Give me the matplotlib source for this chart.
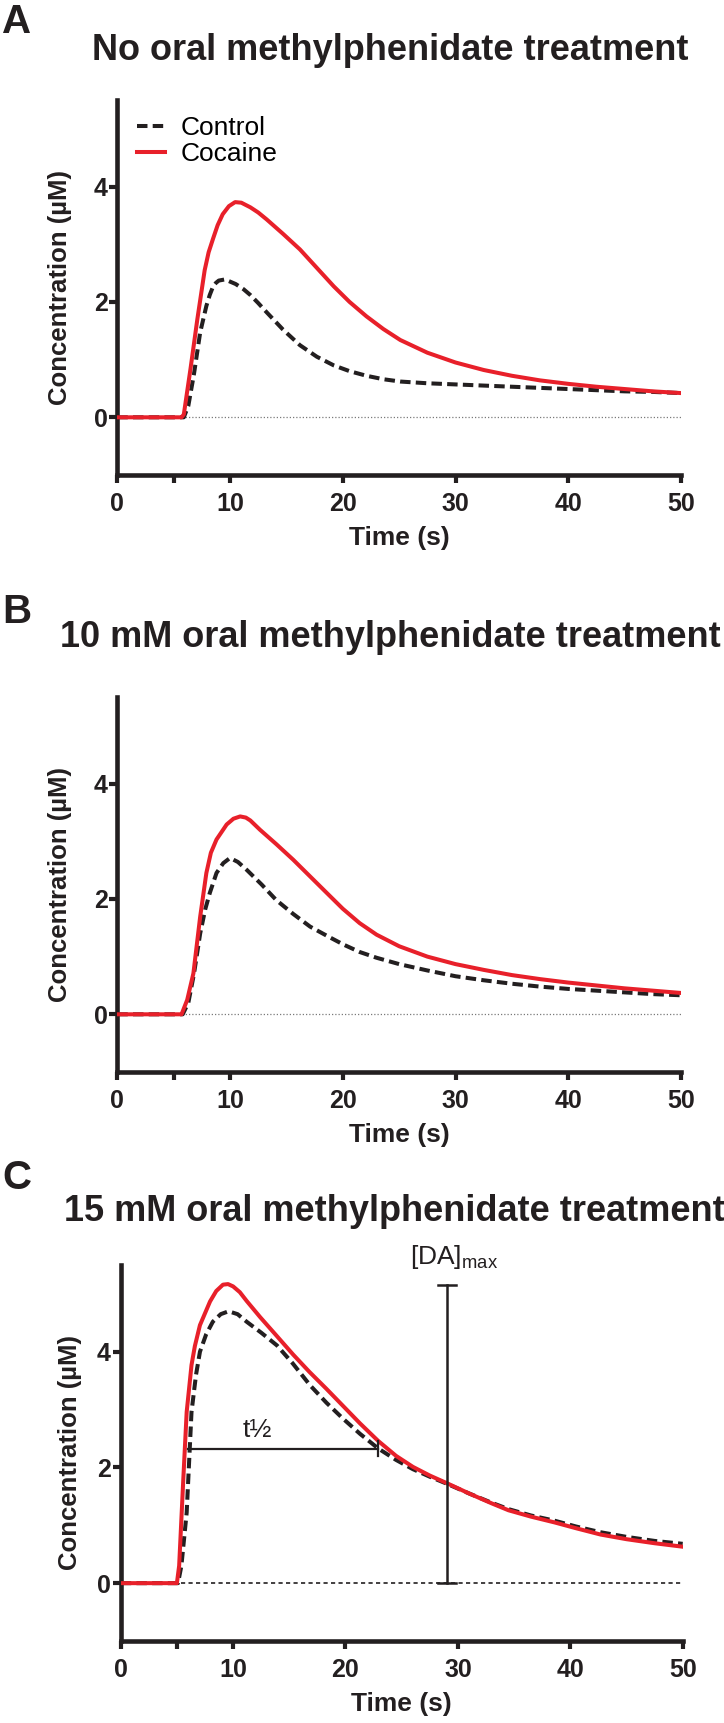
import matplotlib
matplotlib.use("Agg")
import matplotlib.pyplot as plt
from matplotlib.ticker import FixedLocator

plt.rcParams['font.family'] = ['Liberation Sans', 'DejaVu Sans']
plt.rcParams['mathtext.fontset'] = 'custom'
plt.rcParams['mathtext.rm'] = 'Liberation Sans'

# ---------------- data ----------------
titles = ["No oral methylphenidate treatment",
          "10 mM oral methylphenidate treatment",
          "15 mM oral methylphenidate treatment"]
panel_letters = ["A", "B", "C"]
series_names = ["Control", "Cocaine"]

# Panel A
a_ctrl_t = [0, 3, 5.9, 6.3, 6.8, 7.35, 7.9, 8.2, 8.5, 8.75, 9.0, 9.55, 10.5, 11.2, 11.8, 12.5,
            13.25, 14.7, 16.2, 17.7, 19.2, 20.6, 22.1, 23.6, 25.1, 27.5, 30, 32.5, 35, 37.5,
            40, 42.5, 45, 47.5, 50]
a_ctrl_v = [0, 0, 0, 0.2, 0.75, 1.47, 1.93, 2.12, 2.27, 2.33, 2.37, 2.39, 2.31, 2.22, 2.12, 1.98,
            1.82, 1.52, 1.25, 1.05, 0.90, 0.80, 0.72, 0.66, 0.62, 0.59, 0.57, 0.55, 0.53, 0.51,
            0.49, 0.47, 0.45, 0.44, 0.42]
a_coc_t = [0, 3, 5.7, 5.9, 6.5, 7.1, 7.75, 8.1, 8.5, 8.9, 9.35, 9.9, 10.45, 11.0, 11.8, 12.5,
           13.25, 14.7, 16.2, 17.7, 19.2, 20.6, 22.1, 23.6, 25.1, 27.5, 30, 32.5, 35, 37.5,
           40, 42.5, 45, 47.5, 50]
a_coc_v = [0, 0, 0, 0.05, 0.85, 1.7, 2.55, 2.86, 3.1, 3.33, 3.52, 3.66, 3.73, 3.72, 3.64, 3.55,
           3.43, 3.18, 2.91, 2.59, 2.27, 2.0, 1.75, 1.53, 1.34, 1.12, 0.95, 0.82, 0.72, 0.64,
           0.58, 0.53, 0.49, 0.45, 0.42]

# Panel B
b_ctrl_t = [0, 3, 5.8, 6.3, 6.8, 7.35, 7.8, 8.2, 8.8, 9.4, 10.0, 10.7, 11.5, 12.8, 14.1, 15.6,
            17.1, 18.6, 20.05, 21.5, 23, 25, 27.5, 30, 32.5, 35, 37.5, 40, 42.5, 45, 47.5, 50]
b_ctrl_v = [0, 0, 0, 0.2, 0.7, 1.4, 1.82, 2.1, 2.45, 2.62, 2.71, 2.64, 2.5, 2.25, 1.98, 1.74,
            1.52, 1.36, 1.21, 1.08, 0.98, 0.87, 0.76, 0.66, 0.59, 0.53, 0.48, 0.44, 0.41, 0.38,
            0.35, 0.33]
b_coc_t = [0, 3, 5.7, 6.2, 6.75, 7.35, 7.9, 8.3, 8.8, 9.7, 10.3, 10.9, 11.4, 11.8, 12.65, 14.1,
           15.6, 17.1, 18.6, 20.0, 21.5, 23, 25, 27.5, 30, 32.5, 35, 37.5, 40, 42.5, 45, 47.5, 50]
b_coc_v = [0, 0, 0, 0.25, 0.71, 1.69, 2.45, 2.8, 3.03, 3.29, 3.39, 3.43, 3.41, 3.36, 3.2, 2.95,
           2.68, 2.39, 2.1, 1.83, 1.58, 1.38, 1.18, 1.0, 0.87, 0.77, 0.68, 0.61, 0.55, 0.5, 0.45,
           0.41, 0.37]

# Panel C
c_ctrl_t = [0, 3, 5.1, 5.4, 5.87, 6.3, 6.7, 7.05, 7.6, 8.2, 8.9, 9.6, 10.4, 11.2, 12.5, 13.9,
            15.3, 16.85, 18.3, 19.8, 21.3, 22.9, 24.5, 26, 27.5, 29, 31, 33, 34.5, 36.5, 38.6,
            40.5, 42.7, 45, 47.5, 50]
c_ctrl_v = [0, 0, 0, 0.3, 1.22, 2.96, 3.6, 4.0, 4.3, 4.52, 4.65, 4.70, 4.65, 4.52, 4.33, 4.11,
            3.8, 3.42, 3.12, 2.84, 2.58, 2.33, 2.13, 1.97, 1.84, 1.72, 1.55, 1.39, 1.28, 1.17, 1.08,
            0.98, 0.88, 0.80, 0.73, 0.68]
c_coc_t = [0, 3, 5.0, 5.2, 5.57, 5.87, 6.3, 6.6, 7.05, 7.95, 8.5, 9.1, 9.55, 10.0, 10.6, 11.2,
           12.4, 13.9, 15.35, 16.8, 18.3, 19.8, 21.3, 22.9, 24.5, 26, 27.5, 29, 31, 33, 34.5,
           36.5, 38.6, 40.5, 42.7, 45, 47.5, 50]
c_coc_v = [0, 0, 0, 0.3, 1.8, 2.96, 3.77, 4.1, 4.46, 4.87, 5.05, 5.16, 5.17, 5.13, 5.03, 4.88,
           4.6, 4.27, 3.95, 3.65, 3.36, 3.06, 2.76, 2.46, 2.2, 2.01, 1.86, 1.73, 1.55, 1.38, 1.26,
           1.15, 1.05, 0.95, 0.84, 0.76, 0.69, 0.63]

panels = [
    (a_ctrl_t, a_ctrl_v, a_coc_t, a_coc_v),
    (b_ctrl_t, b_ctrl_v, b_coc_t, b_coc_v),
    (c_ctrl_t, c_ctrl_v, c_coc_t, c_coc_v),
]

x_ticks = [0, 10, 20, 30, 40, 50]
x_minor = [5]
y_ticks = [0, 2, 4]

# annotations (panel C)
thalf_level = 2.32
thalf_start, thalf_end = 6.0, 22.9
damax_time = 29.0
damax_top = 5.15

# ---------------- layout ----------------
W, H = 724, 1723
fig = plt.figure(figsize=(W / 100, H / 100), dpi=100)

def rect(l, r, t, b):
    return [l / W, 1 - b / H, (r - l) / W, (b - t) / H]

ax_rects = [rect(117.3, 681, 100, 475),
            rect(117.3, 681, 697, 1072),
            rect(120.7, 682.7, 1265, 1641)]
title_pos = [(390, 60), (390, 647), (394.5, 1221)]
letter_pos = [(2, 33), (2, 623), (2, 1189)]
ylabel_x = [-0.080, -0.080, -0.069]

INK = '#231f20'
RED = '#e8202a'
LW = 2.9

for i, (ct, cv, kt, kv) in enumerate(panels):
    ax = fig.add_axes(ax_rects[i])
    # baseline
    if i < 2:
        ax.plot([0, 50], [0, 0], color='#7a7a7a', lw=0.9, ls=(0, (1, 1.6)), zorder=1)
    else:
        ax.plot([0, 50], [0, 0], color=INK, lw=1.2, ls=(0, (2.5, 2)), zorder=1)
    ax.plot(ct, cv, color=INK, lw=LW, ls=(0, (2.6, 1.3)), label=series_names[0], zorder=3)
    ax.plot(kt, kv, color=RED, lw=LW, label=series_names[1], zorder=4)

    ax.set_xlim(0, 50)
    ax.set_ylim(-1, 5.5)
    for s in ['top', 'right']:
        ax.spines[s].set_visible(False)
    for s in ['left', 'bottom']:
        ax.spines[s].set_linewidth(3.3)
        ax.spines[s].set_color(INK)
        ax.spines[s].set_capstyle('projecting')
    ax.xaxis.set_major_locator(FixedLocator(x_ticks))
    ax.xaxis.set_minor_locator(FixedLocator(x_minor))
    ax.yaxis.set_major_locator(FixedLocator(y_ticks))
    ax.tick_params(axis='both', which='both', direction='out', length=6, width=3.0,
                   color=INK, labelcolor=INK)
    ax.tick_params(axis='x', which='major', pad=6, labelsize=18)
    ax.tick_params(axis='y', which='major', pad=1, labelsize=18)
    for lab in ax.get_xticklabels() + ax.get_yticklabels():
        lab.set_fontweight('bold')
    ax.set_xlabel('Time (s)', fontsize=19, fontweight='bold', color=INK)
    ax.xaxis.set_label_coords(0.5, -0.135)
    ax.set_ylabel('Concentration (µM)', fontsize=18.5, fontweight='bold', color=INK)
    ax.yaxis.set_label_coords(ylabel_x[i], 0.5)

    if i == 0:
        ax.legend(loc='upper left', bbox_to_anchor=(0.035, 0.958), frameon=False,
                  fontsize=19, handlelength=1.05, handletextpad=0.6, labelspacing=0.08,
                  borderpad=0, borderaxespad=0)
    if i == 2:
        ax.plot([thalf_start, thalf_end], [thalf_level, thalf_level], color=INK, lw=1.6, zorder=5)
        ax.plot([thalf_end, thalf_end], [thalf_level - 0.13, thalf_level + 0.13], color=INK, lw=1.6, zorder=5)
        ax.text((thalf_start + thalf_end) / 2 - 2.3, thalf_level + 0.12, 't½', fontsize=19,
                ha='center', va='bottom', color=INK)
        ax.plot([damax_time, damax_time], [0, damax_top], color=INK, lw=1.8, zorder=5)
        for yy in (0, damax_top):
            ax.plot([damax_time - 0.8, damax_time + 0.8], [yy, yy], color=INK, lw=1.8, zorder=5)
        ax.text(damax_time + 0.7, damax_top + 0.25, r'[DA]$_\mathregular{max}$', fontsize=19,
                ha='center', va='bottom', color=INK, clip_on=False)

    tx, ty = title_pos[i]
    fig.text(tx / W, 1 - ty / H, titles[i], ha='center', va='baseline', fontsize=26,
             fontweight='bold', color=INK)
    lx, ly = letter_pos[i]
    fig.text(lx / W, 1 - ly / H, panel_letters[i], ha='left', va='baseline', fontsize=29,
             fontweight='bold', color=INK)

fig.savefig('out.png', dpi=100)
